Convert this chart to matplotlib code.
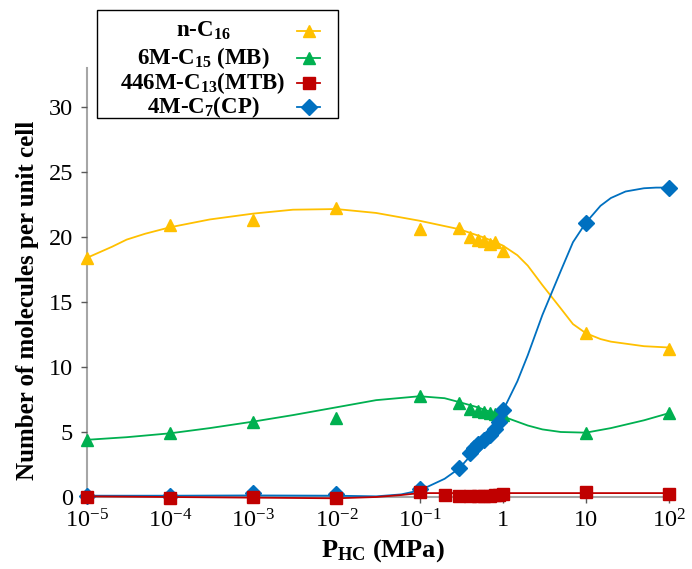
import matplotlib
matplotlib.use('Agg')
import matplotlib.pyplot as plt
from matplotlib.lines import Line2D
from matplotlib.patches import Rectangle
import numpy as np

plt.rcParams['font.family'] = 'Liberation Serif'
plt.rcParams['mathtext.fontset'] = 'custom'
plt.rcParams['mathtext.rm'] = 'Liberation Serif'
plt.rcParams['mathtext.bf'] = 'Liberation Serif:bold'
plt.rcParams['mathtext.it'] = 'Liberation Serif:italic'

YELLOW = '#FFC000'
GREEN = '#00B050'
RED = '#C00000'
BLUE = '#0070C0'
AXIS_GRAY = '#A6A6A6'

# ---- simulated points ----
x_c16 = [1e-5, 1e-4, 1e-3, 1e-2, 1e-1, 0.3, 0.4, 0.5, 0.6, 0.7, 0.8, 1.0, 10, 100]
y_c16 = [18.4, 20.9, 21.3, 22.2, 20.6, 20.7, 20.0, 19.8, 19.7, 19.5, 19.6, 18.9, 12.6, 11.4]

x_mb = [1e-5, 1e-4, 1e-3, 1e-2, 1e-1, 0.3, 0.4, 0.5, 0.6, 0.7, 0.8, 1.0, 10, 100]
y_mb = [4.4, 4.95, 5.8, 6.05, 7.8, 7.2, 6.8, 6.6, 6.55, 6.5, 6.4, 6.3, 4.95, 6.45]

x_mtb = [1e-5, 1e-4, 1e-3, 1e-2, 1e-1, 0.2, 0.3, 0.4, 0.5, 0.6, 0.7, 0.8, 0.9, 1.0, 10, 100]
y_mtb = [0.0, -0.05, 0.0, -0.05, 0.35, 0.15, 0.1, 0.05, 0.05, 0.1, 0.1, 0.15, 0.15, 0.2, 0.35, 0.25]

x_cp = [1e-5, 1e-4, 1e-3, 1e-2, 1e-1, 0.3, 0.4, 0.45, 0.5, 0.6, 0.7, 0.8, 0.9, 1.0, 10, 100]
y_cp = [0.1, 0.1, 0.3, 0.2, 0.6, 2.2, 3.4, 3.75, 4.1, 4.4, 4.8, 5.2, 5.8, 6.7, 21.1, 23.8]

# ---- model curves ----
xc_c16 = [1e-5, 2e-5, 3e-5, 5e-5, 1e-4, 3e-4, 1e-3, 3e-3, 1e-2, 3e-2, 1e-1, 0.3, 0.6, 1, 1.5, 2, 3, 5, 7,
          10, 15, 20, 50, 100]
yc_c16 = [18.4, 19.25, 19.8, 20.25, 20.75, 21.35, 21.8, 22.1, 22.15, 21.85, 21.25, 20.6, 19.95, 19.35, 18.6,
          17.8, 16.3, 14.5, 13.3, 12.6, 12.15, 11.95, 11.6, 11.5]

xc_mb = [1e-5, 3e-5, 1e-4, 3e-4, 1e-3, 3e-3, 1e-2, 3e-2, 1e-1, 0.2, 0.3, 0.5, 1, 2, 3, 5, 10, 20, 50, 100]
yc_mb = [4.4, 4.6, 4.9, 5.3, 5.8, 6.3, 6.9, 7.45, 7.75, 7.6, 7.3, 6.9, 6.2, 5.5, 5.2, 5.0, 4.95, 5.3, 5.9, 6.45]

xc_mtb = [1e-5, 1e-4, 1e-3, 1e-2, 3e-2, 6e-2, 0.1, 0.3, 1, 10, 100]
yc_mtb = [0.05, 0.0, -0.05, -0.1, 0.0, 0.15, 0.3, 0.3, 0.3, 0.3, 0.3]

xc_cp = [1e-5, 1e-4, 1e-3, 1e-2, 3e-2, 6e-2, 0.1, 0.2, 0.3, 0.5, 0.7, 1, 1.5, 2, 3, 5, 7, 10, 15, 20, 30,
         50, 70, 100]
yc_cp = [0.1, 0.1, 0.12, 0.1, 0.05, 0.2, 0.5, 1.4, 2.2, 3.8, 5.0, 6.6, 8.9, 10.9, 14.0, 17.4, 19.6, 21.1,
         22.4, 23.0, 23.5, 23.75, 23.8, 23.8]

xticks = [1e-5, 1e-4, 1e-3, 1e-2, 1e-1, 1, 10, 100]
xticklabels = ['$10^{-5}$', '$10^{-4}$', '$10^{-3}$', '$10^{-2}$', '$10^{-1}$', '1', '10', '$10^{2}$']
yticks = [0, 5, 10, 15, 20, 25, 30]

W, H = 692, 569
fig = plt.figure(figsize=(W / 100, H / 100), dpi=100)
ax = fig.add_axes([87 / W, 72 / H, 582 / W, 429 / H])
ax.set_xscale('log')
ax.set_xlim(1e-5, 100)
ax.set_ylim(0, 33)

series = [
    (xc_c16, yc_c16, x_c16, y_c16, YELLOW, '^', 8.5),
    (xc_mb, yc_mb, x_mb, y_mb, GREEN, '^', 8.5),
    (xc_cp, yc_cp, x_cp, y_cp, BLUE, 'D', 8),
    (xc_mtb, yc_mtb, x_mtb, y_mtb, RED, 's', 8),
]
for i, (xc, yc, xp, yp, col, mk, ms) in enumerate(series):
    ax.plot(xc, yc, color=col, lw=1.3, clip_on=False, zorder=3 + i)
    ax.plot(xp, yp, ls='none', marker=mk, ms=ms, color=col, mec=col, clip_on=False, zorder=3 + i)

for s in ['top', 'right']:
    ax.spines[s].set_visible(False)
for s in ['left', 'bottom']:
    ax.spines[s].set_color(AXIS_GRAY)
    ax.spines[s].set_linewidth(1.5)
    ax.spines[s].set_zorder(1)

ax.set_xticks(xticks)
ax.set_xticklabels(xticklabels)
ax.xaxis.set_minor_locator(matplotlib.ticker.NullLocator())
ax.set_yticks(yticks)
ax.tick_params(axis='both', direction='out', length=4, width=1, color='#595959', labelsize=17.5,
               labelcolor='black')
ax.tick_params(axis='x', pad=5)
ax.tick_params(axis='y', pad=6)

fig.text(383 / W, 1 - 551 / H, r'P$_{\mathbf{HC}}$ (MPa)', ha='center', va='center',
         fontsize=19, fontweight='bold')
fig.text(28 / W, 1 - 300 / H, 'Number of molecules per unit cell', ha='center', va='center',
         rotation=90, fontsize=18, fontweight='bold')

# ---- legend drawn by hand: labels left, handles right ----
fig.add_artist(Rectangle((97 / W, 1 - 118 / H), 241 / W, 108 / H, transform=fig.transFigure,
                         facecolor='white', edgecolor='black', lw=1, zorder=10))
leg_labels = [r'n-C$_{\mathbf{16}}$', r'6M-C$_{\mathbf{15}}$ (MB)', r'446M-C$_{\mathbf{13}}$(MTB)',
              r'4M-C$_{\mathbf{7}}$(CP)']
leg_style = [(YELLOW, '^', 8.5), (GREEN, '^', 8.5), (RED, 's', 8), (BLUE, 'D', 8)]
leg_rows = [31, 58, 83, 107]
for lab, (col, mk, ms), yr in zip(leg_labels, leg_style, leg_rows):
    yf = 1 - yr / H
    fig.text(203 / W, yf, lab, ha='center', va='center', fontsize=16.5, fontweight='bold', zorder=11)
    fig.add_artist(Line2D([297 / W, 320 / W], [yf, yf], transform=fig.transFigure, color=col, lw=1.3, zorder=11))
    fig.add_artist(Line2D([308.5 / W], [yf], transform=fig.transFigure, marker=mk, ms=ms, color=col,
                          ls='none', zorder=12))

fig.savefig('out.png', dpi=100, facecolor='white')
